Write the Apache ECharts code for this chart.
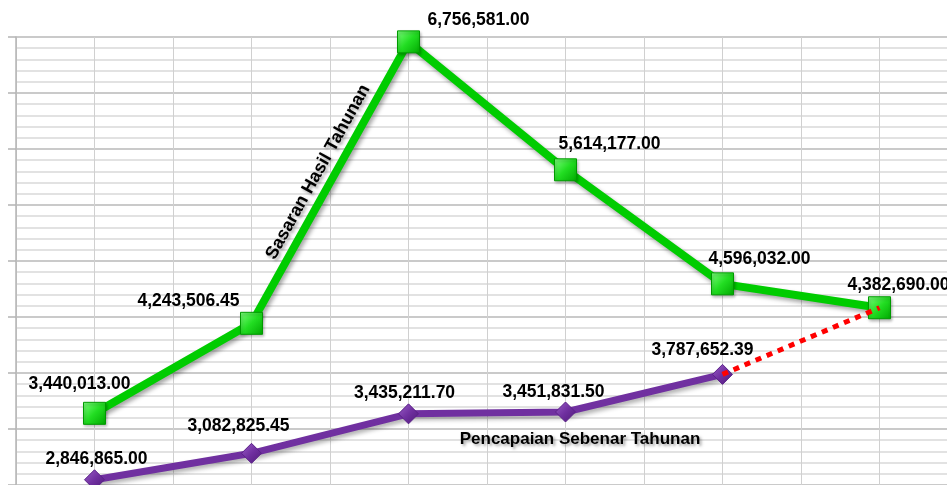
<!DOCTYPE html>
<html>
<head>
<meta charset="utf-8">
<script src="https://cdn.jsdelivr.net/npm/echarts@6/dist/echarts.min.js"></script>
<style>
  html, body { margin: 0; padding: 0; background: #fff; overflow: hidden; }
  /* the plot runs past the right edge of the window, as in the picture */
  #chart { width: 958px; height: 485px; }
</style>
</head>
<body>
<div id="chart"></div>
<script>
// categories are not labelled in the picture
const categories = ['T1', 'T2', 'T3', 'T4', 'T5', 'T6'];
const sasaran = [3440013.00, 4243506.45, 6756581.00, 5614177.00, 4596032.00, 4382690.00];
const pencapaian = [2846865.00, 3082825.45, 3435211.70, 3451831.50, 3787652.39, null];
// dotted link from the last actual value to the last target
const unjuran = [null, null, null, null, 3787652.39, 4382690.00];

// label offsets from each point (styling only)
const sasaranLabelOffset = [[-15, -29], [-63, -22], [70, -22], [44, -26], [37, -25], [19, -23]];
const pencapaianLabelOffset = [[2, -21], [-13, -27], [-4, -21], [-12, -20], [-20, -24]];

const FONT = 'Liberation Sans, Arial, sans-serif';

function fmt(v) {
  return Number(v).toLocaleString('en-US', { minimumFractionDigits: 2, maximumFractionDigits: 2 });
}

function withLabels(values, offsets) {
  return values.map((v, i) => {
    if (v == null) return v;
    return { value: v, label: { offset: offsets[i] } };
  });
}

const chart = echarts.init(document.getElementById('chart'));

const option = {
  animation: false,
  grid: { left: 16, top: 37, right: 0, bottom: 0 },
  xAxis: [
    {
      type: 'category',
      data: categories,
      boundaryGap: true,
      axisLine: { show: false },
      axisTick: { show: false },
      axisLabel: { show: false },
      splitLine: { show: false }
    },
    {
      // only used to draw the vertical grid lines (band edges and centres)
      type: 'value',
      position: 'top',
      min: 0,
      max: 12,
      interval: 1,
      axisLine: { show: false },
      axisTick: { show: false },
      axisLabel: { show: false },
      splitLine: { show: true, lineStyle: { color: '#d0d0d0', width: 1 } }
    }
  ],
  yAxis: [
    {
      type: 'value',
      min: 2800000,
      max: 6800000,
      axisLine: { show: false },
      axisTick: { show: false },
      axisLabel: { show: false },
      splitLine: { show: false }
    },
    {
      // grid lines: major every 500k, minor every 100k (offset from 2.8M)
      type: 'value',
      position: 'left',
      min: 0,
      max: 4000000,
      interval: 500000,
      axisLine: { show: true, lineStyle: { color: '#b4b4b4', width: 1.5 } },
      axisTick: { show: true, length: 8, lineStyle: { color: '#b4b4b4', width: 1.5 } },
      axisLabel: { show: false },
      splitLine: { show: true, lineStyle: { color: '#b8b8b8', width: 1.5 } },
      minorTick: { show: false, splitNumber: 5 },
      minorSplitLine: { show: true, lineStyle: { color: '#d9d9d9', width: 1.5 } }
    }
  ],
  graphic: [
    {
      type: 'text',
      x: 318,
      y: 172,
      rotation: 61 * Math.PI / 180,
      z: 100,
      style: {
        text: 'Sasaran Hasil Tahunan',
        font: 'bold 18px ' + FONT,
        fill: '#000',
        align: 'center',
        verticalAlign: 'middle',
        textShadowColor: 'rgba(0,0,0,0.35)',
        textShadowBlur: 3,
        textShadowOffsetX: 2,
        textShadowOffsetY: 2
      }
    },
    {
      type: 'text',
      x: 580,
      y: 439,
      z: 100,
      style: {
        text: 'Pencapaian Sebenar Tahunan',
        font: 'bold 17px ' + FONT,
        fill: '#000',
        align: 'center',
        verticalAlign: 'middle',
        textShadowColor: 'rgba(0,0,0,0.35)',
        textShadowBlur: 3,
        textShadowOffsetX: 2,
        textShadowOffsetY: 2
      }
    }
  ],
  series: [
    {
      name: 'Sasaran Hasil Tahunan',
      type: 'line',
      xAxisIndex: 0,
      yAxisIndex: 0,
      data: withLabels(sasaran, sasaranLabelOffset),
      symbol: 'rect',
      symbolSize: 22,
      lineStyle: {
        color: '#00cc00',
        width: 8,
        shadowColor: 'rgba(0,0,0,0.35)',
        shadowBlur: 4,
        shadowOffsetX: 2,
        shadowOffsetY: 3
      },
      itemStyle: {
        color: new echarts.graphic.LinearGradient(0, 0, 1, 1, [
          { offset: 0, color: '#7dff7d' },
          { offset: 0.5, color: '#22dd22' },
          { offset: 1, color: '#00a800' }
        ]),
        borderColor: '#009a00',
        borderWidth: 1,
        shadowColor: 'rgba(0,0,0,0.3)',
        shadowBlur: 3,
        shadowOffsetX: 1,
        shadowOffsetY: 2
      },
      label: {
        show: true,
        position: 'inside',
        color: '#000',
        fontFamily: FONT,
        fontWeight: 'bold',
        fontSize: 17.5,
        formatter: p => fmt(p.value)
      },
      z: 3
    },
    {
      name: 'Pencapaian Sebenar Tahunan',
      type: 'line',
      xAxisIndex: 0,
      yAxisIndex: 0,
      data: withLabels(pencapaian, pencapaianLabelOffset),
      symbol: 'diamond',
      symbolSize: [20, 20],
      lineStyle: {
        color: '#7030a0',
        width: 7,
        shadowColor: 'rgba(0,0,0,0.3)',
        shadowBlur: 4,
        shadowOffsetX: 2,
        shadowOffsetY: 3
      },
      itemStyle: {
        color: new echarts.graphic.LinearGradient(0, 0, 1, 1, [
          { offset: 0, color: '#9b5fc8' },
          { offset: 0.5, color: '#7030a0' },
          { offset: 1, color: '#4e1a78' }
        ]),
        borderColor: '#5a2088',
        borderWidth: 1
      },
      label: {
        show: true,
        position: 'inside',
        color: '#000',
        fontFamily: FONT,
        fontWeight: 'bold',
        fontSize: 17.5,
        formatter: p => fmt(p.value)
      },
      z: 3
    },
    {
      name: 'Unjuran',
      type: 'line',
      xAxisIndex: 0,
      yAxisIndex: 0,
      data: unjuran,
      showSymbol: false,
      symbol: 'none',
      lineStyle: { color: '#ff0000', width: 5, type: [6, 6] },
      z: 4
    }
  ]
};

chart.setOption(option);
</script>
</body>
</html>
